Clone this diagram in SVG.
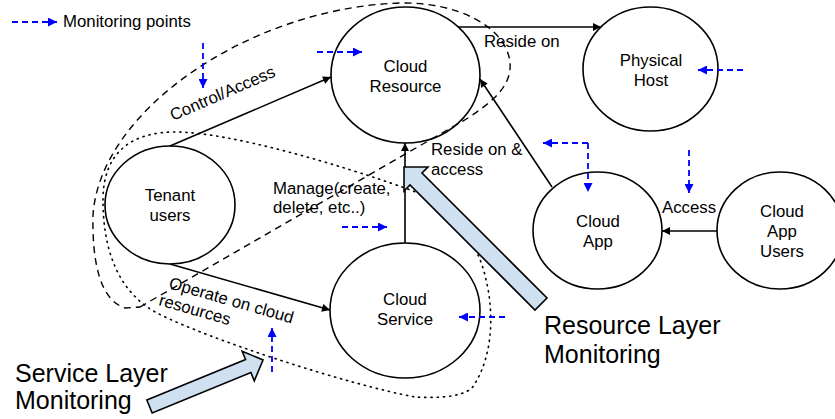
<svg xmlns="http://www.w3.org/2000/svg" width="835" height="419" viewBox="0 0 835 419">
<defs>
<marker id="ah" viewBox="0 0 10 10" refX="10" refY="5" markerWidth="10" markerHeight="8" markerUnits="userSpaceOnUse" orient="auto"><path d="M0,0 L10,5 L0,10 Z" fill="#000"/></marker>
<marker id="bh" viewBox="0 0 10 10" refX="10" refY="5" markerWidth="10" markerHeight="9" markerUnits="userSpaceOnUse" orient="auto"><path d="M0,0 L10,5 L0,10 Z" fill="#0000ff"/></marker>
<style>
.node{fill:#fff;stroke:#000;stroke-width:1.6}
.t{font-family:"Liberation Sans",Arial,sans-serif;font-size:16.8px;fill:#000}
.c{text-anchor:middle}
.big{font-family:"Liberation Sans",Arial,sans-serif;font-size:25px;fill:#000}
.edge{stroke:#000;stroke-width:1.6;fill:none;marker-end:url(#ah)}
.mon{stroke:#0000ff;stroke-width:1.8;fill:none;stroke-dasharray:6 4;marker-end:url(#bh)}
.dash{stroke:#000;stroke-width:1.4;fill:none;stroke-dasharray:7 5}
.dot{stroke:#000;stroke-width:1.6;fill:none;stroke-dasharray:1.2 5;stroke-linecap:round}
.bigarrow{fill:#cfe0f1;stroke:#000;stroke-width:1.6;stroke-linejoin:miter}
</style>
</defs>
<rect width="835" height="419" fill="#fff"/>

<g id="legend">
<line class="mon" x1="12" y1="22" x2="57" y2="22"/>
<text class="t" x="63" y="27">Monitoring points</text>
</g>

<g id="node-cloud-resource">
<ellipse class="node" cx="405.5" cy="75" rx="74.5" ry="68"/>
<text class="t c" x="405.5" y="72">Cloud</text>
<text class="t c" x="405.5" y="92">Resource</text>
</g>
<g id="node-physical-host">
<ellipse class="node" cx="650.5" cy="69" rx="67.5" ry="62"/>
<text class="t c" x="651" y="66">Physical</text>
<text class="t c" x="651" y="86">Host</text>
</g>
<g id="node-tenant-users">
<ellipse class="node" cx="170" cy="205" rx="65" ry="59"/>
<text class="t c" x="170" y="201">Tenant</text>
<text class="t c" x="170" y="221">users</text>
</g>
<g id="node-cloud-service">
<ellipse class="node" cx="405" cy="310.5" rx="75" ry="67.5"/>
<text class="t c" x="405" y="305">Cloud</text>
<text class="t c" x="405" y="325">Service</text>
</g>
<g id="node-cloud-app">
<ellipse class="node" cx="597.5" cy="230.5" rx="64.5" ry="58.5"/>
<text class="t c" x="598" y="227">Cloud</text>
<text class="t c" x="598" y="247">App</text>
</g>
<g id="node-cloud-app-users">
<ellipse class="node" cx="780" cy="230.5" rx="63" ry="58.5"/>
<text class="t c" x="782" y="217">Cloud</text>
<text class="t c" x="782" y="237">App</text>
<text class="t c" x="782" y="257">Users</text>
</g>

<g id="connectors">
<line class="edge" x1="170" y1="146" x2="331" y2="77"/>
<line class="edge" x1="458" y1="27" x2="601" y2="27"/>
<line class="edge" x1="552" y1="187" x2="480" y2="79"/>
<line class="edge" x1="405" y1="243" x2="405" y2="143"/>
<line class="edge" x1="717" y1="231" x2="662" y2="231"/>
<line class="edge" x1="170" y1="264" x2="330" y2="310"/>
<text class="t" transform="rotate(-23.5 173 121)" x="173" y="121">Control/Access</text>
<text class="t" x="484" y="47">Reside on</text>
<text class="t" x="431" y="155">Reside on &amp;</text>
<text class="t" x="431" y="175">access</text>
<text class="t" x="273" y="194">Manage(create,</text>
<text class="t" x="273" y="213">delete, etc..)</text>
<text class="t" x="662" y="213">Access</text>
<text class="t" transform="rotate(16 168 288)"><tspan x="168" y="288">Operate on cloud</tspan><tspan x="163" y="307">resources</tspan></text>
</g>

<g id="boundaries">
<path class="dash" d="M 140 307 L 468 118 C 495 100, 512 85, 510 62 C 506 28, 460 2, 400 3 C 250 8, 100 110, 93 215 C 92 262, 100 300, 125 308 Z"/>
<path class="dot" d="M 103 200 C 103 152, 132 132, 175 132 C 230 132, 340 165, 405 188 C 440 200, 468 225, 482 265 C 495 305, 495 355, 472 388 C 460 398, 435 398, 415 397 C 350 385, 210 340, 157 313 C 118 292, 103 250, 103 200 Z"/>
</g>

<g id="monitoring-points">
<line class="mon" x1="203" y1="43" x2="203" y2="88"/>
<line class="mon" x1="317" y1="52" x2="362" y2="52"/>
<line class="mon" x1="743" y1="70" x2="698" y2="70"/>
<line class="mon" x1="588" y1="143" x2="543" y2="143"/>
<line class="mon" x1="588" y1="143" x2="588" y2="192"/>
<line class="mon" x1="689" y1="150" x2="689" y2="193"/>
<line class="mon" x1="342" y1="227" x2="387" y2="227"/>
<line class="mon" x1="505" y1="317" x2="459" y2="317"/>
<line class="mon" x1="272" y1="372" x2="272" y2="328"/>
</g>

<g id="resource-layer-monitoring">
<polygon class="bigarrow" points="404,167 428,167 422,173 547,298 535,310 410,185 404,191"/>
<text class="big" x="544" y="334">Resource Layer</text>
<text class="big" x="544" y="363">Monitoring</text>
</g>
<g id="service-layer-monitoring">
<polygon class="bigarrow" transform="translate(149.5 406.5) rotate(-22.3)" points="0,-7 106.7,-7 106.7,-16 122.7,0 106.7,16 106.7,7 0,7"/>
<text class="big" x="15" y="382">Service Layer</text>
<text class="big" x="15" y="409">Monitoring</text>
</g>
</svg>
